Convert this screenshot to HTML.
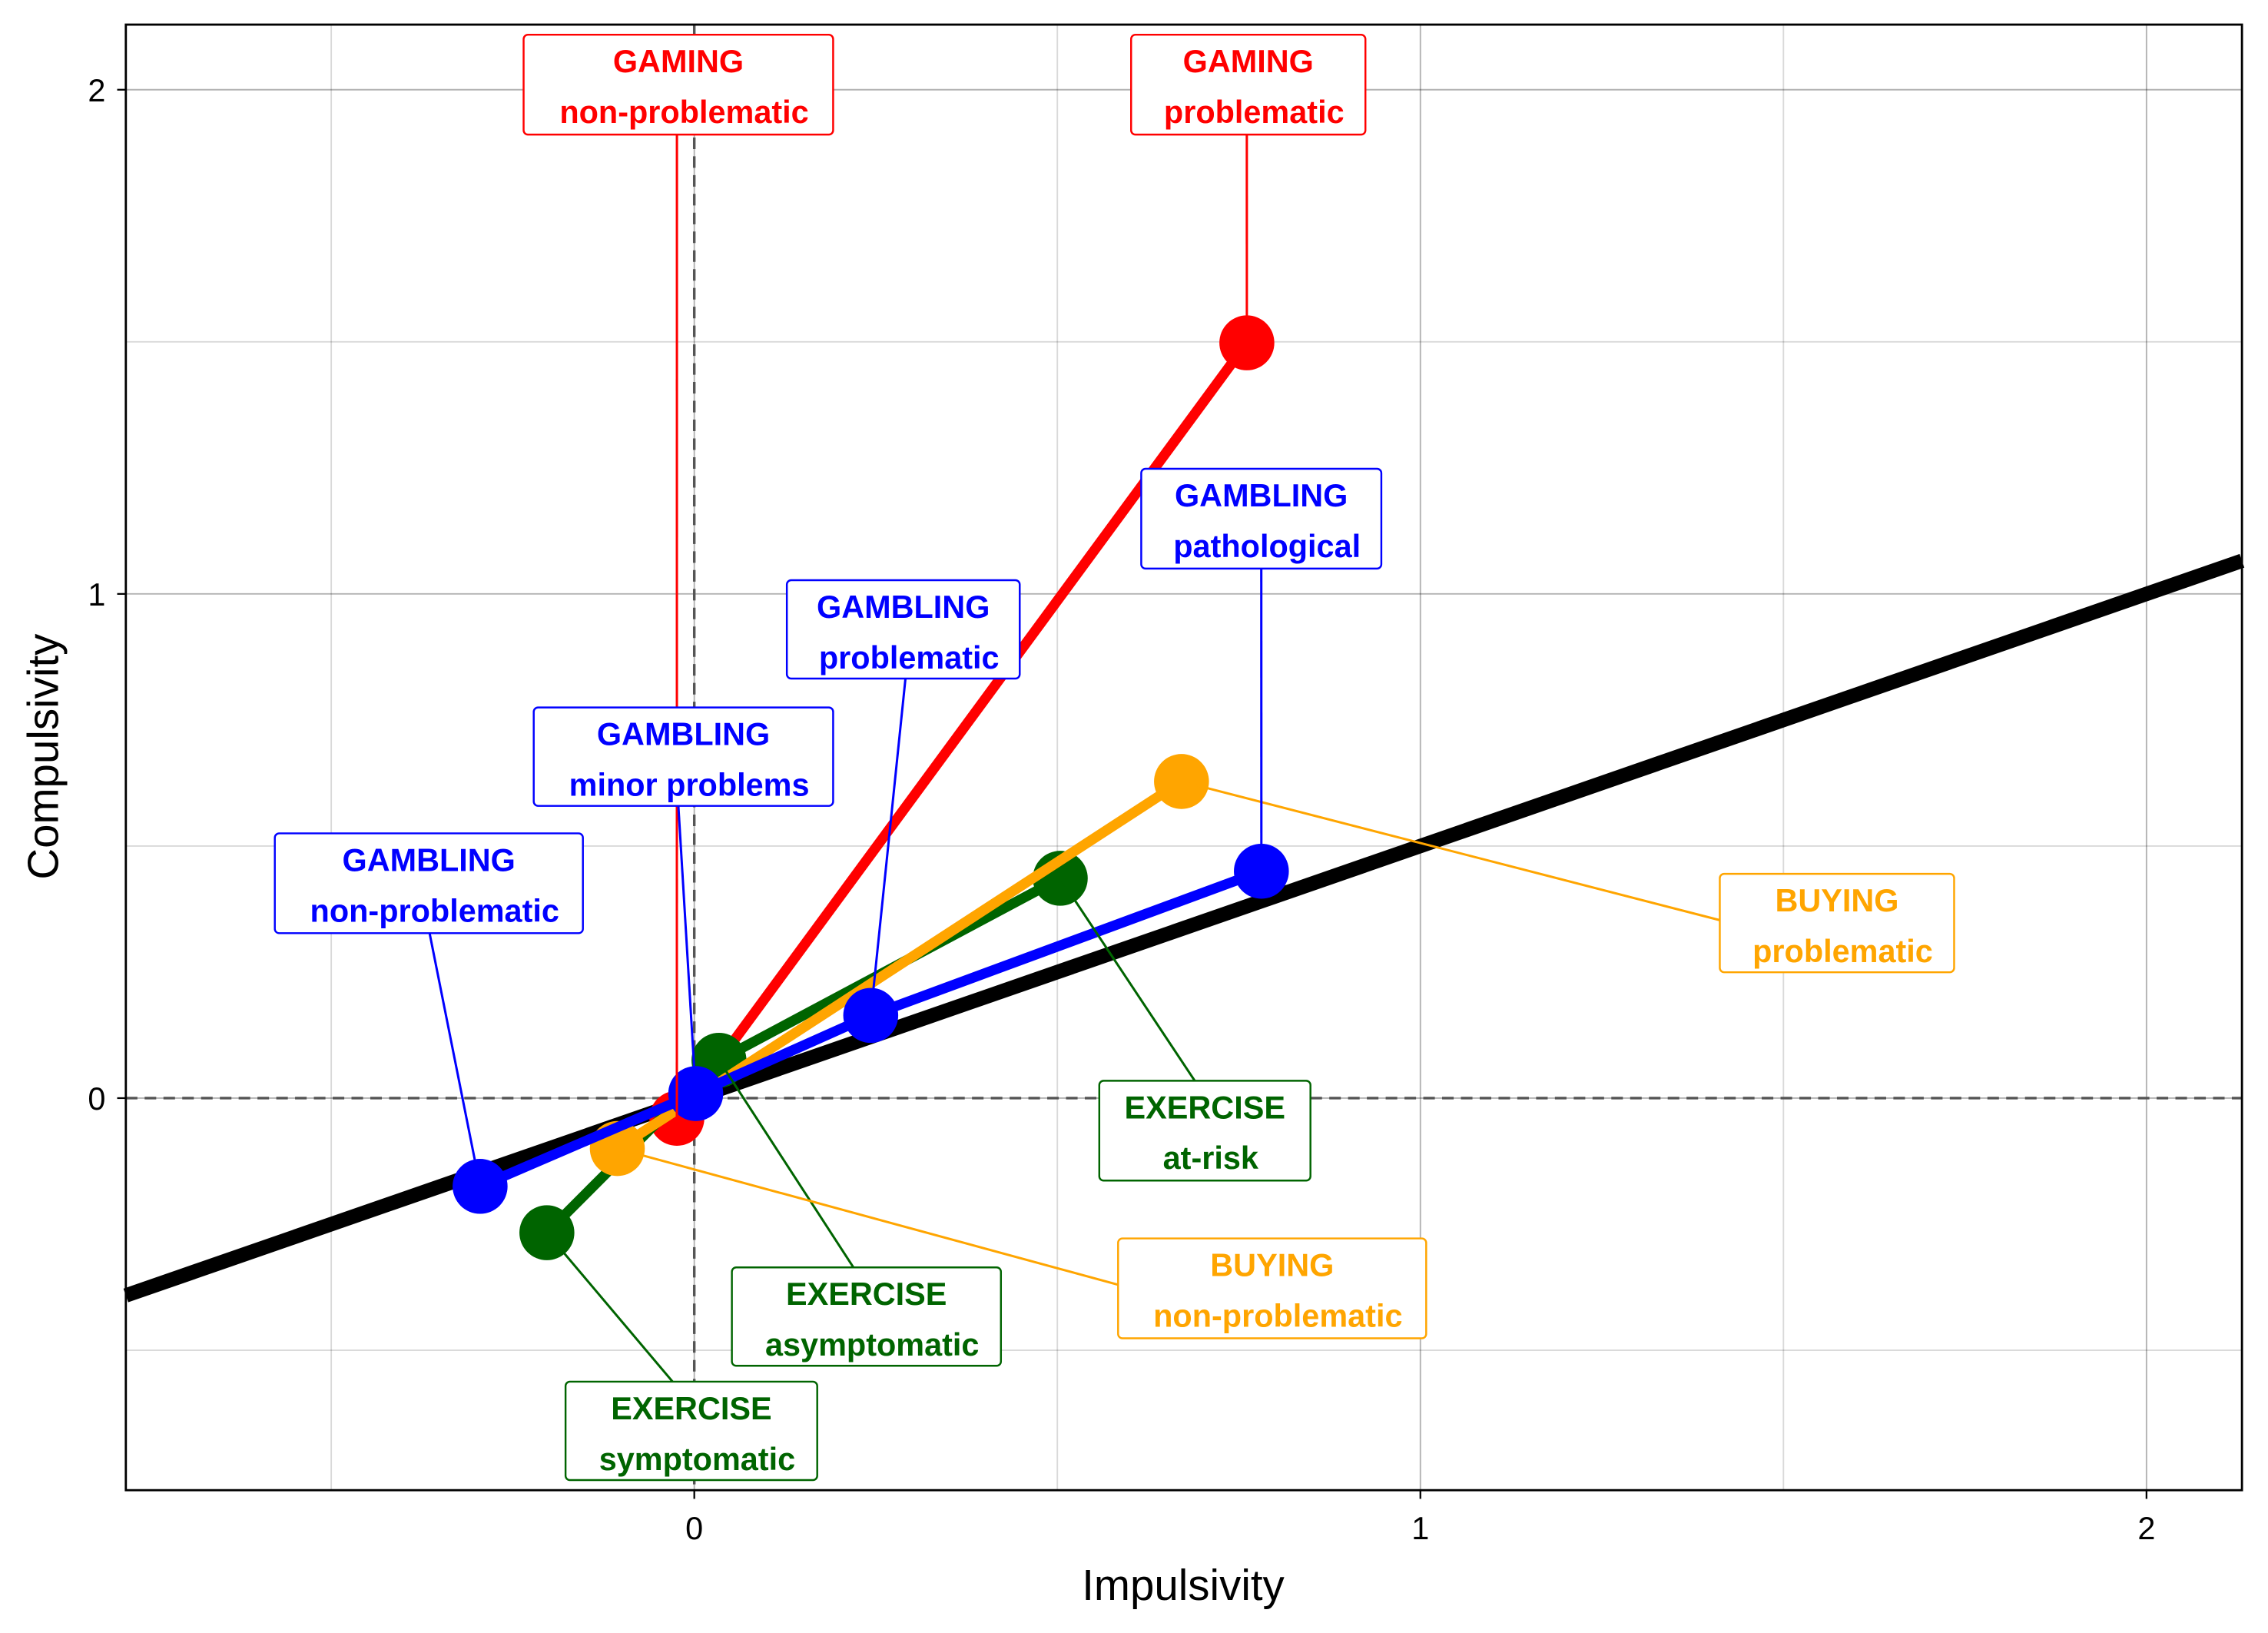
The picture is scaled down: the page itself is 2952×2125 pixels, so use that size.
<!DOCTYPE html>
<html><head><meta charset="utf-8"><style>
html,body{margin:0;padding:0;background:#fff}
svg{display:block}
text{font-family:"Liberation Sans",Arial,sans-serif}
</style></head><body>
<svg id="chart" width="2952" height="2125" viewBox="0 0 1568 1128.7" xmlns="http://www.w3.org/2000/svg">
<rect x="0" y="0" width="1568" height="1129" fill="#fff"/>
<g id="grid"></g>
<g id="axes"></g>
<g id="marks"></g>
<g id="labels"></g>
</svg>
<script>
const xTicks = [0, 1, 2];
const yTicks = [0, 1, 2];
const seriesNames = ["GAMING", "EXERCISE", "BUYING", "GAMBLING"];
const seriesColors = ["#ff0000", "#006400", "#ffa500", "#0000ff"];
const gamingX = [-0.024, 0.761];
const gamingY = [-0.04, 1.498];
const gamingLevels = ["non-problematic", "problematic"];
const exerciseX = [-0.203, 0.034, 0.504];
const exerciseY = [-0.267, 0.075, 0.436];
const exerciseLevels = ["symptomatic", "asymptomatic", "at-risk"];
const buyingX = [-0.106, 0.671];
const buyingY = [-0.1, 0.628];
const buyingLevels = ["non-problematic", "problematic"];
const gamblingX = [-0.295, 0.002, 0.243, 0.781];
const gamblingY = [-0.175, 0.009, 0.164, 0.45];
const gamblingLevels = ["non-problematic", "minor problems", "problematic", "pathological"];
const refSlope = 0.5;

// layout (pixel boxes for annotations: x0,y0,x1,y1, connector anchor ax,ay)
const boxLayout = [
 [[362,24,576,93,468,93],[782,24,944,93,862,93]],
 [[391,955,565,1023,465,955],[506,876,692,944,590,876],[760,747,906,816,826,747]],
 [[773,856,986,925,773,888],[1189,604,1351,672,1189,636]],
 [[190,576,403,645,297,645],[369,489,576,557,469,557],[544,401,705,469,626,469],[789,324,955,393,872,393]]
];

const L=87,R=1550,T=17,B=1030;
const sx = v => 480 + v*502;
const sy = v => 759 - v*348.5;
const NS="http://www.w3.org/2000/svg";
function mk(tag, parent, attrs){const e=document.createElementNS(NS,tag);for(const k in attrs)e.setAttribute(k,attrs[k]);parent.appendChild(e);return e;}

const grid=document.getElementById('grid');
for(let v=-0.5; v<=2.1; v+=0.5){
  const line=mk('line',grid,{x1:sx(v),x2:sx(v),y1:T,y2:B,stroke:'#000','stroke-opacity':(Math.abs(v%1)<1e-9?0.3:0.15),'stroke-width':1});
  
  
}
for(let v=-0.5; v<=2.1; v+=0.5){
  const line=mk('line',grid,{x1:L,x2:R,y1:sy(v),y2:sy(v),stroke:'#000','stroke-opacity':(Math.abs(v%1)<1e-9?0.3:0.15),'stroke-width':1});
  
  
}
const axes=document.getElementById('axes');
let d1=mk('line',axes,{x1:sx(0),x2:sx(0),y1:T,y2:B,stroke:'#555','stroke-width':1.8,'stroke-dasharray':'8,5'});


let d2=mk('line',axes,{x1:L,x2:R,y1:sy(0),y2:sy(0),stroke:'#555','stroke-width':1.8,'stroke-dasharray':'8,5'});


xTicks.forEach(t=>{
  mk('line',axes,{x1:sx(t),x2:sx(t),y1:B,y2:B+6,stroke:'#000','stroke-width':1.2});
  const tx=mk('text',axes,{x:sx(t),y:B+34,'text-anchor':'middle','font-size':22});
  tx.textContent=t;
  
  
});
yTicks.forEach(t=>{
  mk('line',axes,{x1:L-6,x2:L,y1:sy(t),y2:sy(t),stroke:'#000','stroke-width':1.2});
  const tx=mk('text',axes,{x:L-14,y:sy(t)+8,'text-anchor':'end','font-size':22});
  tx.textContent=t;
  
  
});
const xt=mk('text',axes,{x:818,y:1106,'text-anchor':'middle','font-size':30});
xt.textContent='Impulsivity';


const yt=mk('text',axes,{x:40,y:523,'text-anchor':'middle','font-size':30,transform:'rotate(-90 40 523)'});
yt.textContent='Compulsivity';



const marks=document.getElementById('marks');
const x0=(L-480)/502, x1=(R-480)/502;
const ref=mk('line',marks,{x1:sx(x0),y1:sy(refSlope*x0),x2:sx(x1),y2:sy(refSlope*x1),stroke:'#000','stroke-width':10});



const allX=[gamingX,exerciseX,buyingX,gamblingX];
const allY=[gamingY,exerciseY,buyingY,gamblingY];
const allLv=[gamingLevels,exerciseLevels,buyingLevels,gamblingLevels];
const labels=document.getElementById('labels');
// connectors first
allX.forEach((xs,s)=>{
  xs.forEach((xv,i)=>{
    const b=boxLayout[s][i];
    const c=mk('line',labels,{x1:b[4],y1:b[5],x2:sx(xv),y2:sy(allY[s][i]),stroke:seriesColors[s],'stroke-width':1.6});
    
    
  });
});
allX.forEach((xs,s)=>{
  const g=mk('g',marks,{});
  
  
  const pts=xs.map((xv,i)=>sx(xv)+','+sy(allY[s][i])).join(' ');
  const pl=mk('polyline',g,{points:pts,fill:'none',stroke:seriesColors[s],'stroke-width':7});
  
  
  xs.forEach((xv,i)=>{
    const c=mk('circle',g,{cx:sx(xv),cy:sy(allY[s][i]),r:19,fill:seriesColors[s]});
    
    
  });
});
allX.forEach((xs,s)=>{
  xs.forEach((xv,i)=>{
    const b=boxLayout[s][i];
    const g=mk('g',labels,{});
    
    
    mk('rect',g,{x:b[0],y:b[1],width:b[2]-b[0],height:b[3]-b[1],rx:3,fill:'#fff',stroke:seriesColors[s],'stroke-width':1.3});
    const cx=(b[0]+b[2])/2;
    const t1=mk('text',g,{x:cx,y:b[1]+26,'text-anchor':'middle','font-size':22,'font-weight':'bold',fill:seriesColors[s]});
    t1.textContent=seriesNames[s];
    const t2=mk('text',g,{x:cx+4,y:b[1]+61,'text-anchor':'middle','font-size':22,'font-weight':'bold',fill:seriesColors[s]});
    t2.textContent=allLv[s][i];
  });
});
const frame=mk('rect',axes,{x:L,y:T,width:R-L,height:B-T,fill:'none',stroke:'#000','stroke-width':1.5});


</script>
</body></html>
